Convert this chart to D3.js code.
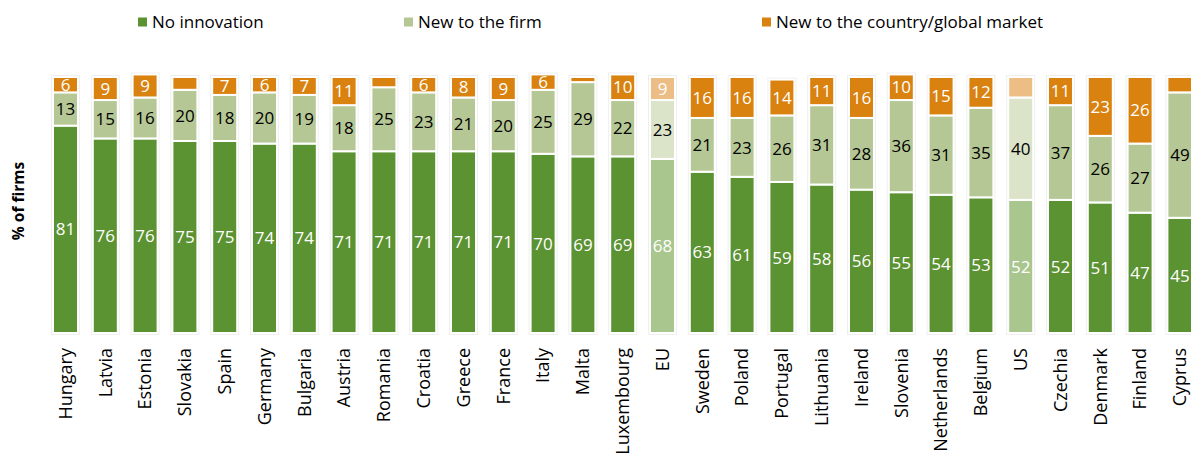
<!DOCTYPE html>
<html>
<head>
<meta charset="utf-8">
<script src="https://cdn.jsdelivr.net/npm/d3@7"></script>
<style>
  html, body { margin: 0; padding: 0; background: #fff; }
  svg { display: block; font-family: "Open Sans", "DejaVu Sans", sans-serif; }
</style>
</head>
<body>
<svg id="chart" width="1191" height="453"></svg>
<script>
// Share of firms by type of innovation (%), sorted by "No innovation"
const countries = ["Hungary", "Latvia", "Estonia", "Slovakia", "Spain", "Germany", "Bulgaria", "Austria",
  "Romania", "Croatia", "Greece", "France", "Italy", "Malta", "Luxembourg", "EU", "Sweden", "Poland",
  "Portugal", "Lithuania", "Ireland", "Slovenia", "Netherlands", "Belgium", "US", "Czechia", "Denmark",
  "Finland", "Cyprus"];
const noInnovation = [81, 76, 76, 75, 75, 74, 74, 71, 71, 71, 71, 71, 70, 69, 69, 68, 63, 61, 59, 58, 56, 55, 54, 53, 52, 52, 51, 47, 45];
const newToFirm    = [13, 15, 16, 20, 18, 20, 19, 18, 25, 23, 21, 20, 25, 29, 22, 23, 21, 23, 26, 31, 28, 36, 31, 35, 40, 37, 26, 27, 49];
const newToMarket  = [6, 9, 9, 5, 7, 6, 7, 11, 4, 6, 8, 9, 6, 2, 10, 9, 16, 16, 14, 11, 16, 10, 15, 12, 8, 11, 23, 26, 6];
// Top segments that carry no value label
const unlabeledTop = ["Slovakia", "Romania", "Malta", "US", "Cyprus"];
// Benchmarks drawn in a paler shade
const benchmarks = ["EU", "US"];

const seriesNames = ["No innovation", "New to the firm", "New to the country/global market"];
const colors      = ["#5b9232", "#b5c794", "#d9820f"];
const paleColors  = ["#a9c68e", "#dbe3c8", "#ecbd85"];
const labelColors = ["#ffffff", "#000000", "#ffffff"];

const svg = d3.select("#chart");

const x = d3.scaleBand()
  .domain(countries)
  .range([45.6, 1199.8])
  .paddingInner(0.372)
  .paddingOuter(0.186);

const y = d3.scaleLinear().domain([0, 100]).range([333, 77]);

const rows = countries.map((c, i) => ({
  country: c,
  values: [noInnovation[i], newToFirm[i], newToMarket[i]]
}));

const stack = d3.stack()
  .keys([0, 1, 2])
  .value((d, k) => d.values[k]);
const layers = stack(rows);

// soft grey halo behind each bar
svg.append("g").selectAll("rect")
  .data(rows)
  .join("rect")
  .attr("x", d => x(d.country) - 2)
  .attr("width", x.bandwidth() + 4)
  .attr("y", d => y(d3.sum(d.values)) - 2)
  .attr("height", d => y(0) - y(d3.sum(d.values)) + 4)
  .attr("fill", "#efefef");

const layerG = svg.append("g").selectAll("g")
  .data(layers)
  .join("g");

layerG.selectAll("rect")
  .data(l => l.map(s => ({ s, k: l.key })))
  .join("rect")
  .attr("x", d => x(d.s.data.country))
  .attr("width", x.bandwidth())
  .attr("y", d => y(d.s[1]))
  .attr("height", d => y(d.s[0]) - y(d.s[1]))
  .attr("fill", d => benchmarks.includes(d.s.data.country) ? paleColors[d.k] : colors[d.k])
  .attr("stroke", "#ffffff")
  .attr("stroke-width", 2);

// value labels centred in each segment
layerG.selectAll("text")
  .data(l => l.map(s => ({ s, k: l.key }))
    .filter(d => !(d.k === 2 && unlabeledTop.includes(d.s.data.country))))
  .join("text")
  .attr("x", d => x(d.s.data.country) + x.bandwidth() / 2)
  .attr("y", d => (y(d.s[0]) + y(d.s[1])) / 2)
  .attr("dy", "0.36em")
  .attr("text-anchor", "middle")
  .attr("font-size", 17)
  .attr("fill", d => labelColors[d.k])
  .text(d => d.s.data.values[d.k]);

// category axis
const xAxis = svg.append("g")
  .attr("transform", `translate(0,${y(0)})`)
  .call(d3.axisBottom(x).tickSize(0).tickPadding(0));
xAxis.select(".domain").remove();
xAxis.selectAll("text")
  .attr("font-family", "Open Sans, sans-serif")
  .attr("font-size", 18)
  .attr("fill", "#000")
  .attr("transform", "rotate(-90)")
  .attr("text-anchor", "end")
  .attr("x", -15)
  .attr("y", 0)
  .attr("dy", "0.35em");

// y axis title
svg.append("text")
  .attr("transform", "translate(19,201) rotate(-90)")
  .attr("text-anchor", "middle")
  .attr("dy", "0.35em")
  .attr("font-size", 15.5)
  .attr("font-weight", "bold")
  .text("% of firms");

// legend
const legendX = [138, 404, 762];
const legend = svg.append("g").selectAll("g")
  .data(seriesNames)
  .join("g")
  .attr("transform", (d, i) => `translate(${legendX[i]},22)`);
legend.append("rect")
  .attr("x", 0).attr("y", -4.5)
  .attr("width", 9).attr("height", 9)
  .attr("fill", (d, i) => colors[i]);
legend.append("text")
  .attr("x", 14)
  .attr("dy", "0.35em")
  .attr("font-size", 17)
  .attr("fill", "#000")
  .text(d => d);
</script>
</body>
</html>
